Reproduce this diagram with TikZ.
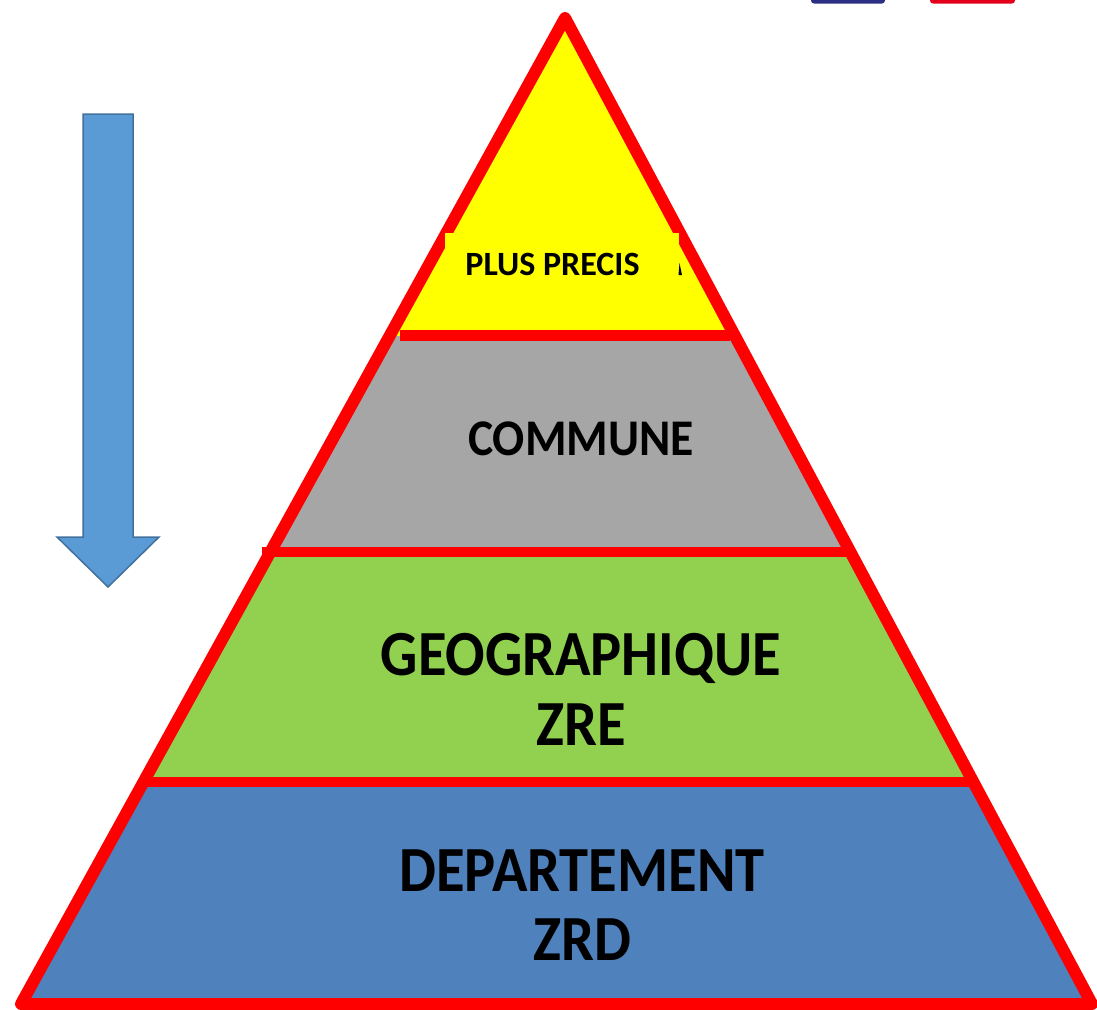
\documentclass[tikz,border=0pt]{standalone}
\usepackage{fontspec}
\usepackage{graphicx}
\setmainfont{Carlito}
\definecolor{pyRed}{HTML}{FF0000}
\definecolor{pyYellow}{HTML}{FFFF00}
\definecolor{pyGray}{HTML}{A6A6A6}
\definecolor{pyGreen}{HTML}{92D050}
\definecolor{pyBlue}{HTML}{4F81BD}
\definecolor{arrowFill}{HTML}{5B9BD5}
\definecolor{arrowEdge}{HTML}{41719C}
\definecolor{flagBlue}{HTML}{2B2E83}
\definecolor{flagRed}{HTML}{E2001A}
\newcommand{\tallbig}[1]{\scalebox{1}[1.1]{#1}}
\newcommand{\tallmid}[1]{\scalebox{1}[1.08]{#1}}
\tikzset{
  sepline/.style={draw=pyRed, line width=10.5pt},
  outline/.style={draw=pyRed, line width=12pt, line join=round},
  biglabel/.style={font=\bfseries\fontsize{58.5}{64}\selectfont, anchor=base, inner sep=0pt, text=black},
  midlabel/.style={font=\bfseries\fontsize{47.6}{52}\selectfont, anchor=base, inner sep=0pt, text=black},
  smalllabel/.style={font=\bfseries\fontsize{34}{40}\selectfont, anchor=base, inner sep=0pt, text=black},
}
\begin{document}
\begin{tikzpicture}[x=1pt,y=-1pt]
\useasboundingbox (0,0) rectangle (1097,1009);
\coordinate (apex) at (565,18);
\coordinate (bl) at (21,1004);
\coordinate (br) at (1092,1004);
% bands
\begin{scope}
  \clip (apex) -- (bl) -- (br) -- cycle;
  \fill[pyYellow] (0,0) rectangle (1097,335.5);
  \fill[pyGray] (0,335.5) rectangle (1097,552);
  \fill[pyGreen] (0,552) rectangle (1097,782);
  \fill[pyBlue] (0,782) rectangle (1097,1009);
\end{scope}
% outline
\draw[outline] (apex) -- (bl) -- (br) -- cycle;
% yellow text box over the outline
\fill[pyYellow] (445,233) rectangle (679,331);
\fill[black] (679.5,263) -- (682,275) -- (678.5,275) -- cycle;
% separators
\coordinate (s1l) at (400,335.5);
\coordinate (s1r) at (730,335.5);
\coordinate (s2l) at (262,552);
\coordinate (s2r) at (852,552);
\coordinate (s3l) at (145,782);
\coordinate (s3r) at (973,782);
\draw[sepline] (s1l) -- (s1r);
\draw[sepline] (s2l) -- (s2r);
\draw[sepline] (s3l) -- (s3r);
% labels
\node[smalllabel] (precis) at (552.5,275) {PLUS PRECIS};
\node[midlabel] (commune) at (581,455) {\tallmid{COMMUNE}};
\node[biglabel] (geo) at (581,675) {\tallbig{GEOGRAPHIQUE}};
\node[biglabel] (zre) at (581,745) {\tallbig{ZRE}};
\node[biglabel] (dep) at (582,891) {\tallbig{DEPARTEMENT}};
\node[biglabel] (zrd) at (582,960) {\tallbig{ZRD}};
% arrow
\draw[fill=arrowFill, draw=arrowEdge, line width=1.5pt, line join=miter]
  (83,114) -- (133,114) -- (133,537) -- (159,537) -- (108,587) -- (57,537) -- (83,537) -- cycle;
% flag remnants at the top
\fill[flagBlue, rounded corners=3pt] (811,-10) rectangle (885,3.5);
\fill[flagRed, rounded corners=3pt] (930,-10) rectangle (1015,3.5);
\end{tikzpicture}
\end{document}
